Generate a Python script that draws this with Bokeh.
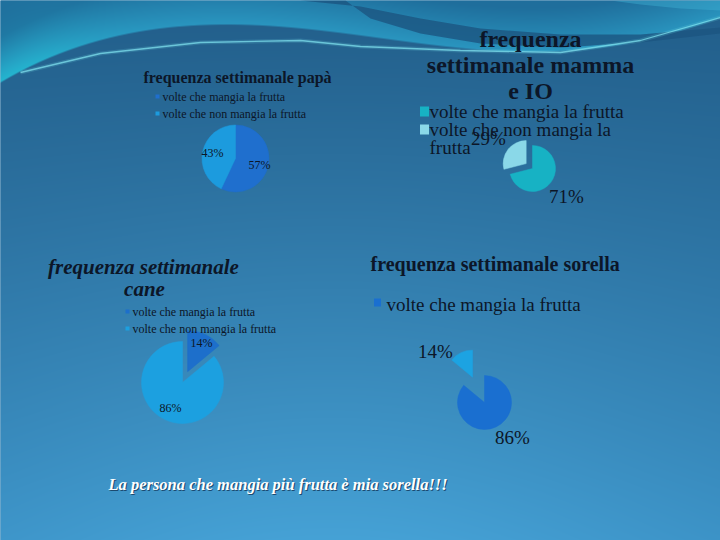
import numpy as np
from math import pi, sin, cos
from bokeh.plotting import figure
from bokeh.models import Range1d
from bokeh.core.properties import value
from bokeh.embed import file_html
from bokeh.resources import INLINE

# ---------------- data ----------------
legend_labels = ["volte che mangia la frutta", "volte che non mangia la frutta"]
papa_values = [57, 43]
mamma_io_values = [71, 29]
cane_values = [14, 86]
sorella_values = [86, 14]

papa_title = ["frequenza settimanale papà"]
mamma_title = ["frequenza", "settimanale mamma", "e IO"]
mamma_legend = ["volte che mangia la frutta", "volte che non mangia la", "frutta"]
cane_title = ["frequenza settimanale", "cane"]
sorella_title = ["frequenza settimanale sorella"]
sorella_legend = ["volte che mangia la frutta"]
conclusion = "La persona che mangia più frutta è mia sorella!!!"

papa_colors = ["#1f6fce", "#1c9bde"]
mamma_colors = ["#17b2c4", "#8ad8e8"]
cane_colors = ["#1d6fcb", "#1ca0e0"]
sorella_colors = ["#1a6fd0", "#1ca3e2"]

FONT = value("Liberation Serif")
INK = "#0c1628"

W, H = 720, 540
p = figure(width=W, height=H, output_backend="svg", toolbar_location=None,
           x_range=Range1d(0, W), y_range=Range1d(0, H), min_border=0)
p.axis.visible = False
p.grid.visible = False
p.outline_line_color = None
p.background_fill_color = "#2d76a8"
p.border_fill_color = "#2d76a8"


def Y(y):
    return H - y


# ---------------- background (gradient + wave shading) ----------------
gh, gw = H, W
xs = np.arange(gw) + 0.5
ry = H - (np.arange(gh) + 0.5)            # screen y of each image row
t = (ry / H)[:, None]
hx = np.exp(-((xs - 330) / 380.0) ** 2)[None, :]
top = np.array([34, 94, 138], dtype=float)
bot_edge = np.array([56, 140, 192], dtype=float)
bot_center = np.array([70, 162, 214], dtype=float)
rgb = np.zeros((gh, gw, 3))
for k in range(3):
    bottom = bot_edge[k] + (bot_center[k] - bot_edge[k]) * hx
    rgb[:, :, k] = top[k] + (bottom - top[k]) * t ** 1.1

# upper wave region (smooth boundary)
bx = np.array([0, 33, 100, 167, 233, 300, 360, 460, 560, 640, 720], dtype=float)
by = np.array([83, 67, 40, 28, 26, 28, 37, 47, 53, 40, 18], dtype=float)
fine_x = np.linspace(0, 720, 73)
coef = np.polyfit(bx, by, 6)
yb = np.interp(xs, fine_x, np.polyval(coef, fine_x))[None, :]
d = yb - ry[:, None]
a = np.clip(d + 0.5, 0, 1)
f = np.clip(d / 45.0, 0, 1)
near = np.array([42, 150, 192], dtype=float)
far = np.array([31, 110, 156], dtype=float)
cyan = np.array([36, 182, 208], dtype=float)
lw = np.exp(-(xs / 90.0) ** 2)[None, :] * np.exp(-(np.maximum(d, 0) / 25.0))
for k in range(3):
    c = near[k] + (far[k] - near[k]) * f
    c = c + (cyan[k] - c) * lw
    rgb[:, :, k] = rgb[:, :, k] * (1 - a) + c * a

img = np.zeros((gh, gw), dtype=np.uint32)
view = img.view(dtype=np.uint8).reshape((gh, gw, 4))
view[:, :, :3] = np.clip(rgb, 0, 255).astype(np.uint8)
view[:, :, 3] = 255
p.image_rgba(image=[img], x=-1, y=-1, dw=W + 2, dh=H + 2)

# dark sweeping band
band = [(300, 0), (360, 6), (420, 18), (480, 28), (560, 34), (640, 34), (720, 27),
        (720, 33), (640, 42), (560, 47), (480, 43), (420, 33), (370, 18), (345, 0)]
p.patch([a_ for a_, b in band], [Y(b) for a_, b in band], color="#1c5581", alpha=0.8, line_alpha=0)
glow = [(610, 0), (720, 0), (720, 10), (680, 8), (640, 4)]
p.patch([a_ for a_, b in glow], [Y(b) for a_, b in glow], color="#3fb0d2", alpha=0.45, line_alpha=0)
streak = [(20, 72), (100, 53), (200, 42), (300, 40), (360, 46), (460, 50), (560, 52),
          (640, 40), (720, 17)]
p.line([a_ for a_, b in streak], [Y(b) for a_, b in streak], line_color="#6fd6e6", line_width=4, alpha=0.18)
p.line([a_ for a_, b in streak], [Y(b) for a_, b in streak], line_color="#7fe0ee", line_width=1.3, alpha=0.75)


# ---------------- pies ----------------
def pie(values, colors, cx, cy, r, explode):
    total = float(sum(values))
    cum = 0.0
    for v, col, ex in zip(values, colors, explode):
        a0 = cum / total
        a1 = (cum + v) / total
        cum += v
        mid = (a0 + a1) / 2 * 2 * pi
        dx = ex * sin(mid)
        dy = ex * cos(mid)
        p.wedge(x=cx + dx, y=Y(cy) + dy, radius=r,
                start_angle=pi / 2 - 2 * pi * a1, end_angle=pi / 2 - 2 * pi * a0,
                fill_color=col, line_color=col, line_width=0.5)


def label(xs_, ys_, texts, size, style="normal", align="center", color=INK):
    p.text(x=xs_, y=[Y(v) for v in ys_], text=texts, text_font=FONT, text_font_size=size,
           text_font_style=style, text_align=align, text_baseline="middle", text_color=color)


# papà
pie(papa_values, papa_colors, 235, 158, 33.5, [0, 0])
label([237], [77], papa_title, "16px", "bold")
p.rect(x=[157, 157], y=[Y(96), Y(113)], width=4, height=4, fill_color=papa_colors, line_alpha=0)
label([162, 162], [96, 113], legend_labels, "12px", align="left")
label([212, 259], [152, 164], [f"{v}%" for v in papa_values[::-1]], "12px")

# mamma e IO
pie(mamma_io_values, mamma_colors, 532, 168, 23, [0, 8])
label([530, 530, 530], [38, 64, 90], mamma_title, "24px", "bold")
p.rect(x=[424, 424], y=[Y(111), Y(129)], width=9, height=10, fill_color=mamma_colors, line_alpha=0)
label([429, 429, 429], [111, 129, 147], mamma_legend, "19px", align="left")
label([566, 488], [196, 138], [f"{v}%" for v in mamma_io_values], "19px")

# cane
pie(cane_values, cane_colors, 182, 382, 41, [12, 0])
label([143, 144], [266, 288], cane_title, "21px", "bold italic")
p.rect(x=[127, 127], y=[Y(311), Y(328)], width=4, height=4, fill_color=cane_colors, line_alpha=0)
label([132, 132], [311, 328], legend_labels, "12px", align="left")
label([201, 170], [342, 407], [f"{v}%" for v in cane_values], "12px")

# sorella
pie(sorella_values, sorella_colors, 484, 402, 27, [0, 28])
label([370], [263], sorella_title, "20px", "bold", align="left")
p.rect(x=[377], y=[Y(302)], width=7, height=8, fill_color=sorella_colors[:1], line_alpha=0)
label([386], [304], sorella_legend, "19px", align="left")
label([512, 435], [437, 351], [f"{v}%" for v in sorella_values], "19px")

# conclusion
label([109], [485], [conclusion], "16.5px", "bold italic", align="left", color="#1b4a70")
label([108], [484], [conclusion], "16.5px", "bold italic", align="left", color="#ffffff")

open("out.html", "w").write(file_html(p, INLINE))
